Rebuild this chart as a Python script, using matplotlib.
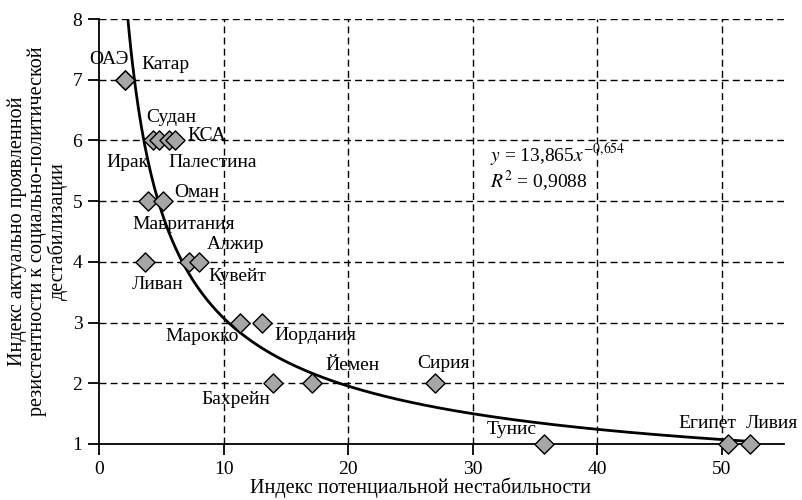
import numpy as np
import matplotlib
matplotlib.use("Agg")
import matplotlib.pyplot as plt

plt.rcParams['font.family'] = ['Liberation Serif', 'DejaVu Serif']
plt.rcParams['mathtext.fontset'] = 'stix'

countries = ['ОАЭ', 'Катар', 'Ирак', 'Судан', 'Палестина', 'КСА',
             'Мавритания', 'Оман', 'Ливан', 'Алжир', 'Кувейт',
             'Марокко', 'Иордания', 'Бахрейн', 'Йемен', 'Сирия',
             'Тунис', 'Египет', 'Ливия']
potential = [2.1, 2.1, 4.3, 4.8, 5.6, 6.1,
             3.9, 5.1, 3.7, 7.2, 8.0,
             11.3, 13.1, 14.0, 17.1, 27.0,
             35.7, 50.5, 52.3]
resistance = [7, 7, 6, 6, 6, 6,
              5, 5, 4, 4, 4,
              3, 3, 2, 2, 2,
              1, 1, 1]

fit_a, fit_b = 13.865, -0.654

# label offsets (pixels) from each marker
offsets = [(-16, 20), (40, 15), (-25, -22), (12, 23), (44, -22), (32, 5),
           (36, -23), (34, 9), (12, -23), (47, 17), (39, -15),
           (-38, -14), (53, -13), (-38, -16), (40, 18), (8, 20),
           (-32, 14), (-21, 21), (22, 21)]

fig = plt.figure(figsize=(8.03, 5.0), dpi=100)
ax = fig.add_axes([0.1233, 0.112, 0.853, 0.85])

xs = np.linspace(2.3, 52.2, 400)
ax.plot(xs, fit_a * xs ** fit_b, color='black', lw=2, zorder=3)

ax.scatter(potential, resistance, marker='D', s=95, facecolor='#a6a6a6',
           edgecolor='black', linewidth=1, zorder=4, clip_on=False)

for name, x, y, (dx, dy) in zip(countries, potential, resistance, offsets):
    ax.annotate(name, (x, y), xytext=(dx, dy), textcoords='offset pixels',
                ha='center', va='center', fontsize=14, zorder=5)

ax.text(0.571, 0.68, r'$y$ = 13,865$x^{-0{,}654}$', transform=ax.transAxes,
        fontsize=14, ha='left', va='center')
ax.text(0.571, 0.621, r'$R^{2}$ = 0,9088', transform=ax.transAxes,
        fontsize=14, ha='left', va='center')

ax.set_xlim(0, 55)
ax.set_ylim(1, 8)
ax.set_xticks([0, 10, 20, 30, 40, 50])
ax.set_yticks(range(1, 9))
ax.grid(True, color='black', linestyle=(0, (5, 3)), linewidth=1)
ax.set_axisbelow(True)
ax.get_xgridlines()[0].set_visible(False)
ax.get_ygridlines()[0].set_visible(False)
for side in ['top', 'right']:
    ax.spines[side].set_visible(False)
ax.spines['left'].set_linewidth(1.3)
ax.spines['bottom'].set_linewidth(1.3)
ax.tick_params(axis='both', labelsize=14, length=8, width=1.3,
               direction='out', pad=4)

fig.text(0.524, 0.024, 'Индекс потенциальной нестабильности', ha='center',
         va='center', fontsize=14.5)
fig.text(0.047, 0.538, 'Индекс актуально проявленной\n'
         'резистентности к социально-политической\nдестабилизации',
         ha='center', va='center', rotation=90, fontsize=14.5,
         linespacing=1.0)

fig.savefig('out.png', dpi=100)
